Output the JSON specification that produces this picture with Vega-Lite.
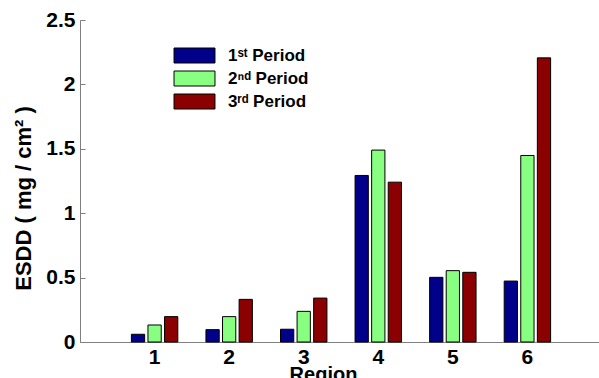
{
  "$schema": "https://vega.github.io/schema/vega-lite/v6.json",
  "width": 522,
  "height": 322,
  "padding": {"left": 80, "top": 20, "right": 0, "bottom": 36},
  "autosize": {"type": "none"},
  "background": "white",
  "config": {
    "view": {"stroke": null},
    "font": "Liberation Sans",
    "axis": {
      "grid": false,
      "domainColor": "#7f7f7f",
      "tickColor": "#7f7f7f",
      "labelColor": "black",
      "labelFont": "Liberation Sans",
      "labelFontWeight": "bold",
      "labelFontSize": 21,
      "titleFont": "Liberation Sans",
      "titleFontWeight": "bold",
      "titleColor": "black"
    }
  },
  "data": {
    "values": [
      {"region": "1", "period": "1ˢᵗ Period", "esdd": 0.060},
      {"region": "1", "period": "2ⁿᵈ Period", "esdd": 0.132},
      {"region": "1", "period": "3ʳᵈ Period", "esdd": 0.197},
      {"region": "2", "period": "1ˢᵗ Period", "esdd": 0.096},
      {"region": "2", "period": "2ⁿᵈ Period", "esdd": 0.197},
      {"region": "2", "period": "3ʳᵈ Period", "esdd": 0.331},
      {"region": "3", "period": "1ˢᵗ Period", "esdd": 0.099},
      {"region": "3", "period": "2ⁿᵈ Period", "esdd": 0.238},
      {"region": "3", "period": "3ʳᵈ Period", "esdd": 0.341},
      {"region": "4", "period": "1ˢᵗ Period", "esdd": 1.293},
      {"region": "4", "period": "2ⁿᵈ Period", "esdd": 1.490},
      {"region": "4", "period": "3ʳᵈ Period", "esdd": 1.241},
      {"region": "5", "period": "1ˢᵗ Period", "esdd": 0.502},
      {"region": "5", "period": "2ⁿᵈ Period", "esdd": 0.554},
      {"region": "5", "period": "3ʳᵈ Period", "esdd": 0.541},
      {"region": "6", "period": "1ˢᵗ Period", "esdd": 0.473},
      {"region": "6", "period": "2ⁿᵈ Period", "esdd": 1.448},
      {"region": "6", "period": "3ʳᵈ Period", "esdd": 2.206}
    ]
  },
  "mark": {"type": "bar", "stroke": "black", "strokeWidth": 1, "cornerRadius": 0},
  "encoding": {
    "x": {
      "field": "region",
      "type": "ordinal",
      "scale": {"paddingInner": 0.333, "paddingOuter": 0.667},
      "axis": {
        "labelAngle": 0,
        "ticks": false,
        "labelPadding": 4,
        "title": "Region",
        "titleFontSize": 20,
        "titleX": 243,
        "titleY": 22,
        "titleBaseline": "top",
        "titleAlign": "center"
      }
    },
    "xOffset": {
      "field": "period",
      "type": "nominal",
      "scale": {"paddingInner": 0.2, "paddingOuter": 0.1}
    },
    "y": {
      "field": "esdd",
      "type": "quantitative",
      "scale": {"domain": [0, 2.5], "nice": false},
      "axis": {
        "values": [0, 0.5, 1, 1.5, 2, 2.5],
        "format": "~g",
        "tickSize": -5,
        "labelPadding": 10,
        "title": "ESDD ( mg / cm² )",
        "titleFontSize": 22,
        "titleAngle": -90,
        "titleX": -57,
        "titleY": 178,
        "titleAlign": "center",
        "titleBaseline": "middle"
      }
    },
    "color": {
      "field": "period",
      "type": "nominal",
      "scale": {"range": ["#00008B", "#88FF80", "#8B0000"]},
      "legend": {
        "title": null,
        "orient": "none",
        "legendX": 106,
        "legendY": 27,
        "padding": 0,
        "symbolType": "M-2.73,-1L2.73,-1L2.73,1L-2.73,1Z",
        "symbolSize": 225,
        "symbolStrokeColor": "black",
        "symbolStrokeWidth": 1,
        "symbolOpacity": 1,
        "labelFont": "Liberation Sans",
        "labelFontWeight": "bold",
        "labelFontSize": 17,
        "labelColor": "black",
        "labelOffset": 25,
        "rowPadding": 4
      }
    }
  }
}
